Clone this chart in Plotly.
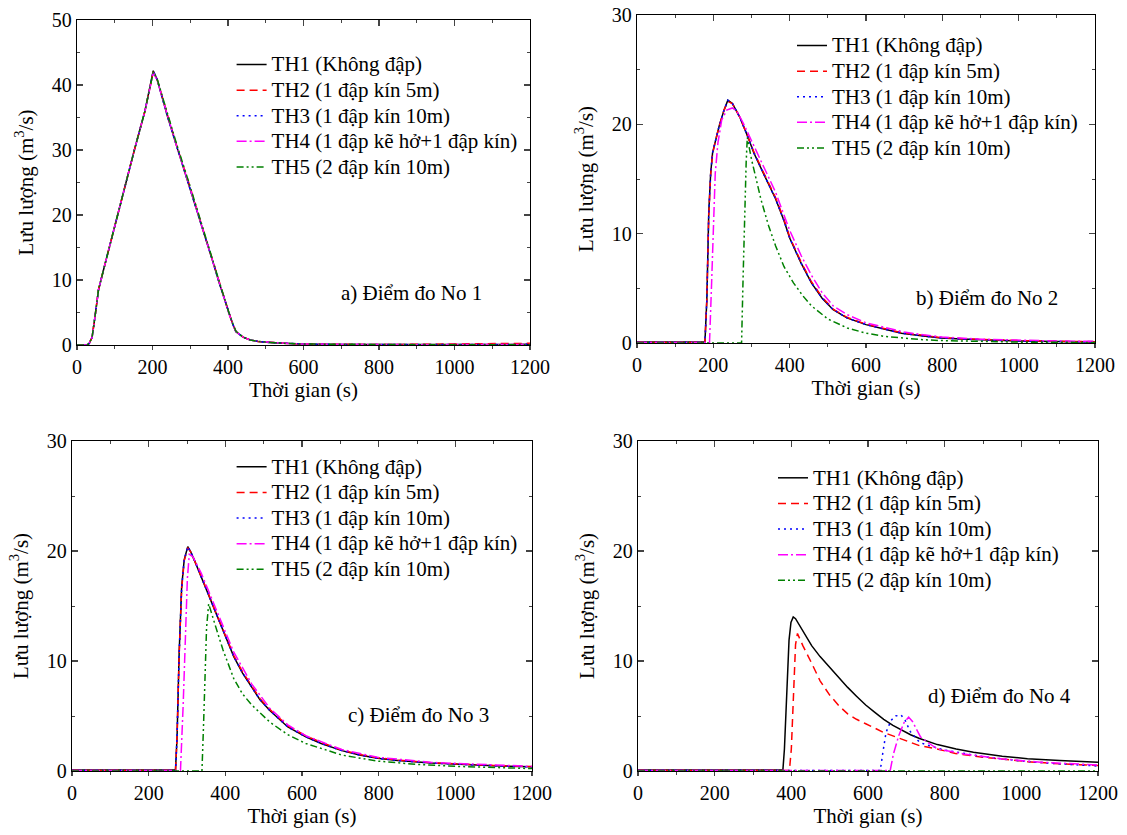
import plotly.graph_objects as go

# ---------------- data ----------------
series_names = ["TH1 (Không đập)", "TH2 (1 đập kín 5m)", "TH3 (1 đập kín 10m)",
                "TH4 (1 đập kẽ hở+1 đập kín)", "TH5 (2 đập kín 10m)"]
panel_labels = ["a) Điểm đo No 1", "b) Điểm đo No 2", "c) Điểm đo No 3", "d) Điểm đo No 4"]
x_title = "Thời gian (s)"
y_title = "Lưu lượng (m<sup>3</sup>/s)"
x_ticks = [0, 200, 400, 600, 800, 1000, 1200]

# Panel a (measuring point 1)
a_t = [0, 25, 32, 40, 48, 57, 70, 95, 120, 152, 180, 202, 212, 240, 265, 298, 320, 341, 360, 377,
       392, 402, 412, 421, 440, 459, 480, 516, 560, 600, 700, 800, 900, 1000, 1100, 1200]
a_th1 = [0, 0, 0.2, 1.2, 4.5, 8.5, 11.5, 17.2, 22.8, 30, 36, 42.2, 40.9, 35.1, 30.4, 24.4, 20.2, 16.3, 12.8, 9.5,
         6.7, 4.9, 3.3, 2.05, 1.2, 0.77, 0.55, 0.36, 0.22, 0.15, 0.08, 0.06, 0.05, 0.06, 0.08, 0.1]
a_th2 = [0, 0, 0.2, 1.2, 4.5, 8.5, 11.5, 17.2, 22.8, 30, 36, 42.0, 40.9, 35.2, 30.5, 24.6, 20.3, 16.4, 12.9, 9.6,
         6.8, 5.0, 3.3, 2.1, 1.2, 0.78, 0.55, 0.36, 0.22, 0.15, 0.09, 0.08, 0.1, 0.14, 0.2, 0.26]
a_th3 = [0, 0, 0.2, 1.2, 4.5, 8.5, 11.5, 17.2, 22.8, 30, 36, 42.1, 40.9, 35.1, 30.4, 24.4, 20.2, 16.3, 12.8, 9.5,
         6.7, 4.9, 3.3, 2.05, 1.2, 0.77, 0.55, 0.36, 0.22, 0.15, 0.08, 0.06, 0.05, 0.06, 0.08, 0.1]
a_th4 = [0, 0, 0.2, 1.2, 4.5, 8.5, 11.5, 17.2, 22.8, 30, 36, 41.9, 40.8, 35.1, 30.4, 24.4, 20.2, 16.3, 12.8, 9.5,
         6.7, 4.9, 3.3, 2.05, 1.2, 0.77, 0.55, 0.36, 0.22, 0.15, 0.08, 0.06, 0.05, 0.06, 0.07, 0.08]
a_th5 = [0, 0, 0.2, 1.2, 4.5, 8.5, 11.5, 17.2, 22.8, 30, 36, 42.0, 41.0, 35.4, 30.7, 24.7, 20.5, 16.6, 13.0, 9.7,
         6.9, 5.0, 3.4, 2.1, 1.2, 0.77, 0.55, 0.36, 0.22, 0.15, 0.08, 0.06, 0.05, 0.05, 0.05, 0.05]

# Panel b (measuring point 2)
b_t1 = [0, 178, 183, 188, 193, 198, 205, 215, 228, 238, 250, 270, 290, 306, 330, 363, 385, 400, 430, 457,
        485, 514, 550, 600, 650, 693, 750, 796, 850, 928, 1000, 1100, 1200]
b_th1 = [0.1, 0.1, 4, 11.9, 15.5, 17.4, 18.4, 19.8, 21.3, 22.2, 21.9, 20.6, 18.9, 17.4, 15.6, 13.2, 11.2, 9.6, 7.3, 5.5,
         4.1, 3.05, 2.3, 1.68, 1.25, 0.9, 0.65, 0.46, 0.36, 0.24, 0.18, 0.13, 0.1]
b_th2 = [0.05, 0.05, 4, 11.7, 15.4, 17.3, 18.4, 19.8, 21.3, 22.1, 21.9, 20.6, 18.9, 17.5, 15.7, 13.3, 11.3, 9.7, 7.4, 5.6,
         4.2, 3.1, 2.35, 1.72, 1.3, 0.95, 0.7, 0.5, 0.4, 0.28, 0.22, 0.16, 0.12]
b_th3 = [0.05, 0.05, 4, 11.8, 15.5, 17.4, 18.4, 19.8, 21.3, 22.2, 21.9, 20.6, 18.9, 17.4, 15.6, 13.2, 11.2, 9.6, 7.3, 5.5,
         4.1, 3.05, 2.3, 1.68, 1.25, 0.9, 0.65, 0.46, 0.36, 0.24, 0.18, 0.13, 0.1]
b_t4 = [0, 190, 195, 200, 205, 212, 222, 235, 250, 262, 280, 300, 330, 363, 400, 430, 457, 485, 514, 550,
        600, 650, 700, 750, 800, 900, 1000, 1100, 1200]
b_th4 = [0.05, 0.05, 5, 11, 15.5, 18.3, 20.4, 21.3, 21.5, 21.2, 20.0, 18.5, 16.2, 13.8, 10.3, 8.0, 6.2, 4.6, 3.4, 2.6,
         1.85, 1.4, 1.0, 0.75, 0.55, 0.35, 0.25, 0.18, 0.15]
b_t5 = [0, 274, 278, 282, 286, 289, 300, 325, 345, 363, 385, 410, 435, 457, 500, 551, 600, 646, 700, 740,
        800, 900, 1000, 1200]
b_th5 = [0, 0, 6, 12, 16.5, 18.8, 16.8, 13.1, 10.7, 8.9, 7.0, 5.5, 4.3, 3.4, 2.2, 1.37, 0.9, 0.62, 0.42, 0.32,
         0.22, 0.12, 0.08, 0.05]

# Panel c (measuring point 3)
c_t1 = [0, 270, 274, 279.5, 286, 292.7, 302, 310, 320, 337.7, 355, 375, 400, 422, 445, 469, 490, 516, 540, 563,
        610, 650, 704, 750, 797, 850, 938, 1000, 1100, 1200]
c_th1 = [0.1, 0.1, 3, 10.7, 16.7, 19.2, 20.4, 19.9, 19.1, 17.6, 16.1, 14.3, 12.2, 10.4, 8.9, 7.6, 6.5, 5.5, 4.7, 4.0,
         3.1, 2.5, 1.85, 1.45, 1.15, 0.95, 0.72, 0.6, 0.47, 0.38]
c_th2 = [0.05, 0.05, 3, 10.5, 16.5, 19.1, 20.3, 19.9, 19.1, 17.7, 16.2, 14.4, 12.3, 10.5, 9.0, 7.7, 6.6, 5.6, 4.8, 4.1,
         3.2, 2.6, 1.9, 1.5, 1.2, 1.0, 0.75, 0.63, 0.5, 0.4]
c_th3 = [0.05, 0.05, 3, 10.6, 16.6, 19.2, 20.4, 19.9, 19.1, 17.6, 16.1, 14.3, 12.2, 10.4, 8.9, 7.6, 6.5, 5.5, 4.7, 4.0,
         3.1, 2.5, 1.85, 1.45, 1.15, 0.95, 0.72, 0.6, 0.47, 0.38]
c_t4 = [0, 283, 290, 296, 301, 306, 315, 337, 375, 422, 469, 516, 563, 610, 704, 797, 938, 1100, 1200]
c_th4 = [0.05, 0.05, 6, 13, 17.5, 19.7, 19.5, 18.0, 14.8, 10.8, 7.9, 5.7, 4.2, 3.2, 1.95, 1.25, 0.78, 0.52, 0.42]
c_t5 = [0, 339, 343, 347, 351, 356.5, 365, 375, 394, 422, 445, 469, 516, 563, 610, 704, 797, 900, 1000, 1100, 1200]
c_th5 = [0, 0, 4, 9, 13, 15.2, 14.3, 13.1, 11.0, 8.4, 7.0, 6.0, 4.45, 3.3, 2.5, 1.45, 0.9, 0.6, 0.42, 0.3, 0.22]

# Panel d (measuring point 4)
d_t1 = [0, 378, 382, 387, 394, 399, 405, 411, 418, 426, 437, 453, 475, 500, 523, 547, 570, 594, 617, 641, 665, 688,
        711, 734.5, 781, 830, 875, 950, 1016, 1100, 1200]
d_th1 = [0.1, 0.1, 2, 6.1, 11.9, 13.5, 14.0, 13.85, 13.45, 12.95, 12.25, 11.4, 10.4, 9.4, 8.5, 7.6, 6.8, 6.0, 5.35,
         4.7, 4.15, 3.7, 3.3, 2.95, 2.4, 2.0, 1.7, 1.35, 1.12, 0.95, 0.8]
d_t2 = [0, 395, 400, 406, 411, 416, 430, 453, 475, 500, 525, 547, 570, 594, 641, 688, 734.5, 780, 828, 900,
        1016, 1100, 1200]
d_th2 = [0.05, 0.05, 2, 7.6, 11.5, 12.5, 11.4, 9.8, 8.2, 6.9, 5.9, 5.2, 4.7, 4.3, 3.5, 2.9, 2.3, 2.0, 1.6, 1.25,
         0.85, 0.65, 0.5]
d_t3 = [0, 632, 638, 647, 660, 672, 686, 697, 710, 734.5, 760, 800, 900, 1000, 1100, 1200]
d_th3 = [0.05, 0.05, 1.5, 3.5, 4.6, 5.0, 5.1, 4.6, 3.6, 2.6, 2.3, 1.9, 1.3, 0.9, 0.65, 0.45]
d_t4 = [0, 658, 666, 680, 694, 706, 716, 725, 737, 760, 781, 850, 950, 1050, 1200]
d_th4 = [0.05, 0.05, 1.5, 3.2, 4.4, 4.9, 4.5, 3.9, 3.1, 2.5, 2.0, 1.55, 1.1, 0.8, 0.55]
d_t5 = [0, 600, 1200]
d_th5 = [0, 0, 0]

panels = [
    [(a_t, a_th1), (a_t, a_th2), (a_t, a_th3), (a_t, a_th4), (a_t, a_th5)],
    [(b_t1, b_th1), (b_t1, b_th2), (b_t1, b_th3), (b_t4, b_th4), (b_t5, b_th5)],
    [(c_t1, c_th1), (c_t1, c_th2), (c_t1, c_th3), (c_t4, c_th4), (c_t5, c_th5)],
    [(d_t1, d_th1), (d_t2, d_th2), (d_t3, d_th3), (d_t4, d_th4), (d_t5, d_th5)],
]
y_max = [50, 30, 30, 30]

# ---------------- styling ----------------
W, H = 1127, 835
FONT = '"Liberation Serif", "Times New Roman", Times, serif'
colors = ["#000000", "#FF0000", "#0000FF", "#FF00FF", "#008000"]
dashes = ["solid", "8px,5px", "2px,4px", "10px,3px,2px,3px", "7px,3px,2px,3px,2px,3px"]

# plot boxes in screen pixels: (left, right, top, bottom)
boxes = [(77, 530, 20, 345), (637, 1095, 15, 343), (72, 532, 441, 771), (638, 1098, 441, 771)]
# legend anchor (text start x, first item centre y) in screen pixels
leg_pos = [(271.6, 65.7), (832, 46.7), (271.6, 468), (813, 479)]
ann_pos = [(885, 8.0), (917, 4.14), (903, 5.1), (943, 6.8)]


def px_x(v):
    return v / W


def px_y(v):
    return 1 - v / H


fig = go.Figure()
for p, series in enumerate(panels):
    xa = "x" if p == 0 else f"x{p+1}"
    ya = "y" if p == 0 else f"y{p+1}"
    lg = "legend" if p == 0 else f"legend{p+1}"
    for s, (tt, qq) in enumerate(series):
        fig.add_trace(go.Scatter(
            x=tt, y=qq, mode="lines", xaxis=xa, yaxis=ya, legend=lg,
            name=f'<span style="font-size:21px">{series_names[s]}</span>',
            line=dict(color=colors[s], width=1.5, dash=dashes[s]),
            hoverinfo="skip"))

layout = dict(width=W, height=H, margin=dict(l=0, r=0, t=0, b=0, autoexpand=False),
              paper_bgcolor="white", plot_bgcolor="white",
              font=dict(family=FONT, size=20, color="black"),
              annotations=[])
for p in range(4):
    l, r, t, b = boxes[p]
    xk = "xaxis" if p == 0 else f"xaxis{p+1}"
    yk = "yaxis" if p == 0 else f"yaxis{p+1}"
    xa = "x" if p == 0 else f"x{p+1}"
    ya = "y" if p == 0 else f"y{p+1}"
    xdom = [px_x(l), px_x(r)]
    layout[xk] = dict(domain=xdom, anchor=ya, range=[0, 1200], automargin=False,
                      tickvals=x_ticks, ticks="outside", ticklen=4, tickwidth=1.2,
                      minor=dict(dtick=100, ticks="outside", ticklen=2.5, tickwidth=1),
                      showline=True, linecolor="black", linewidth=1.2, mirror=True,
                      showgrid=False, zeroline=False, ticklabeloverflow="allow",
                      tickfont=dict(family=FONT, size=20),
                      title=dict(text=x_title, font=dict(family=FONT, size=21), standoff=3))
    # top axis: inward ticks, no labels
    layout[f"xaxis{p+5}"] = dict(domain=xdom, overlaying=xa, anchor=ya, side="top",
                                 range=[0, 1200], automargin=False, matches=xa,
                                 tickvals=x_ticks, ticks="inside", ticklen=6, tickwidth=1.2,
                                 minor=dict(dtick=100, ticks="inside", ticklen=3, tickwidth=1),
                                 showticklabels=False, showline=False, showgrid=False, zeroline=False)
    layout[yk] = dict(domain=[px_y(b), px_y(t)], anchor=xa, range=[0, y_max[p]], automargin=False,
                      dtick=10, ticks="inside", ticklen=6, tickwidth=1.2,
                      minor=dict(dtick=5, ticks="inside", ticklen=3, tickwidth=1),
                      showline=True, linecolor="black", linewidth=1.2, mirror="ticks",
                      showgrid=False, zeroline=False, ticklabeloverflow="allow",
                      tickfont=dict(family=FONT, size=20),
                      title=dict(text=y_title, font=dict(family=FONT, size=21), standoff=12))
    lk = "legend" if p == 0 else f"legend{p+1}"
    tx, ty = leg_pos[p]
    layout[lk] = dict(x=px_x(tx - 40), y=px_y(ty - 19), xanchor="left", yanchor="top",
                      bgcolor="rgba(0,0,0,0)", borderwidth=0,
                      font=dict(family=FONT, size=17.4, color="black"))
    ax, ay = ann_pos[p]
    layout["annotations"].append(dict(x=ax, y=ay, xref=xa, yref=ya, text=panel_labels[p],
                                      showarrow=False, font=dict(family=FONT, size=21)))

fig.update_layout(**layout)
# empty helper traces so the top overlay axes are drawn
for p in range(4):
    ya = "y" if p == 0 else f"y{p+1}"
    fig.add_trace(go.Scatter(x=[], y=[], xaxis=f"x{p+5}", yaxis=ya, showlegend=False, hoverinfo="skip"))
fig.write_html("out.html",
               config={"displayModeBar": False, "staticPlot": True},
               post_script="document.body.style.margin='0';document.body.style.padding='0';"
                           "document.body.style.overflow='hidden';")
